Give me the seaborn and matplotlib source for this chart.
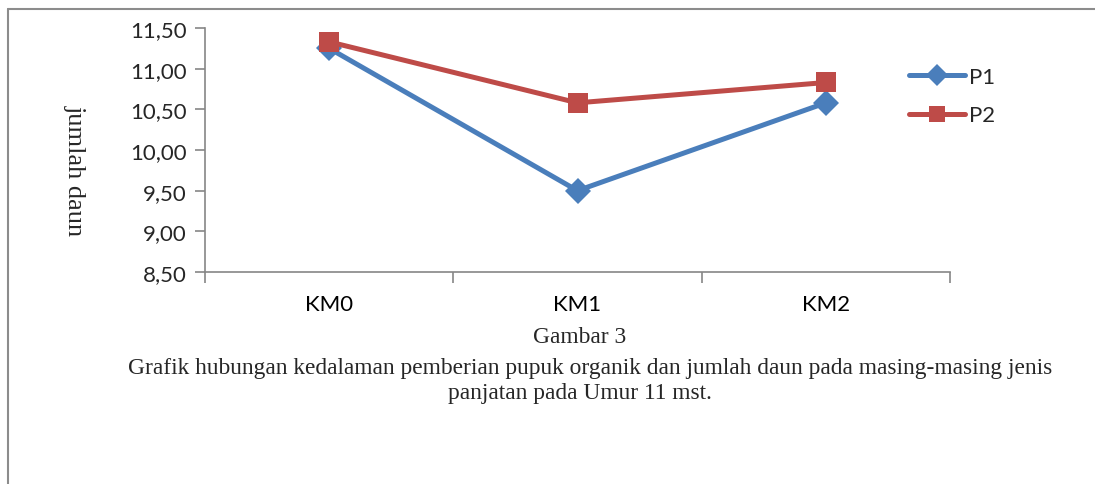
import matplotlib
matplotlib.use("Agg")
import matplotlib.pyplot as plt
from matplotlib.lines import Line2D
from matplotlib.ticker import FixedLocator, FuncFormatter
import seaborn as sns
import pandas as pd

categories = ["KM0", "KM1", "KM2"]
p1_values = [11.25, 9.50, 10.58]
p2_values = [11.33, 10.58, 10.83]
series_names = ["P1", "P2"]
y_ticks = [8.5, 9.0, 9.5, 10.0, 10.5, 11.0, 11.5]

df = pd.DataFrame({
    "kategori": categories * 2,
    "nilai": p1_values + p2_values,
    "seri": [series_names[0]] * 3 + [series_names[1]] * 3,
})

sns.set_style("white")
plt.rcParams["font.family"] = ["Lato", "DejaVu Sans"]

fig = plt.figure(figsize=(10.95, 4.85), dpi=100)
ax = fig.add_axes([0.1872, 0.4371, 0.6804, 0.5031])

colors = {"P1": "#4A7EBB", "P2": "#BE4B48"}
sns.lineplot(data=df[df["seri"] == "P1"], x="kategori", y="nilai", color=colors["P1"],
             marker="D", linewidth=3.6, markersize=13, markeredgewidth=0,
             sort=False, ax=ax, legend=False)
sns.lineplot(data=df[df["seri"] == "P2"], x="kategori", y="nilai", color=colors["P2"],
             marker="s", linewidth=3.6, markersize=14, markeredgewidth=0,
             sort=False, ax=ax, legend=False)

ax.set_xlim(-0.5, 2.5)
ax.set_ylim(8.5, 11.5)
ax.set_yticks(y_ticks)
ax.yaxis.set_major_formatter(FuncFormatter(lambda v, _: f"{v:.2f}".replace(".", ",")))
ax.set_xticks(range(len(categories)))
ax.set_xticklabels(categories)
ax.xaxis.set_minor_locator(FixedLocator([-0.5, 0.5, 1.5, 2.5]))
ax.tick_params(axis="x", which="major", length=0, pad=16, labelsize=16, colors="black")
ax.tick_params(axis="x", which="minor", length=8, width=1.2, color="#868686", direction="out", bottom=True)
ax.tick_params(axis="y", length=7, width=1.2, color="#868686", direction="out", left=True,
               labelsize=16, pad=6)
ax.set_xlabel("")
ax.set_ylabel("jumlah daun", family="Liberation Serif", fontsize=19, rotation=270,
              va="center", ha="center")
ax.yaxis.set_label_coords(-0.175, 0.42)
for side in ["top", "right"]:
    ax.spines[side].set_visible(False)
for side in ["left", "bottom"]:
    ax.spines[side].set_color("#868686")
    ax.spines[side].set_linewidth(1.2)

handles = [
    Line2D([], [], color=colors["P1"], marker="D", markersize=11, linewidth=3.6, markeredgewidth=0),
    Line2D([], [], color=colors["P2"], marker="s", markersize=12, linewidth=3.6, markeredgewidth=0),
]
fig.legend(handles, series_names, loc="upper left", bbox_to_anchor=(0.812, 0.902),
           frameon=False, fontsize=16, handlelength=2.5, handletextpad=0.2,
           labelspacing=0.85)

# outer frame of the figure box
fig.add_artist(Line2D([8 / 1095, 8 / 1095], [0, 1 - 10 / 485], color="#8c8c8c", linewidth=1.5,
                      transform=fig.transFigure))
fig.add_artist(Line2D([8 / 1095, 1], [1 - 10 / 485, 1 - 10 / 485], color="#8c8c8c", linewidth=1.5,
                      transform=fig.transFigure))

serif = "Liberation Serif"
fig.text(580 / 1095, 1 - 338 / 485, "Gambar 3", ha="center", va="center", family=serif, fontsize=16.8)
fig.text(590 / 1095, 1 - 369 / 485,
         "Grafik hubungan kedalaman pemberian pupuk organik dan jumlah daun pada masing-masing jenis",
         ha="center", va="center", family=serif, fontsize=16.8)
fig.text(580 / 1095, 1 - 394 / 485, "panjatan pada Umur 11 mst.", ha="center", va="center",
         family=serif, fontsize=16.8)

fig.savefig("out.png", dpi=100, facecolor="white")
